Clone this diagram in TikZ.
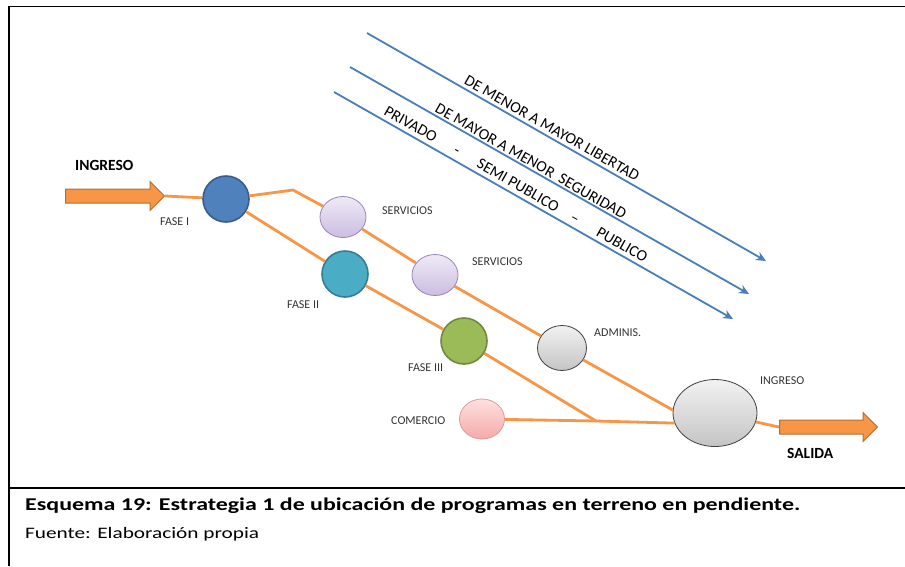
\documentclass[tikz,border=0pt]{standalone}
\usepackage{fontspec}
\usepackage{graphicx}
\setmainfont{Carlito}
\usetikzlibrary{shapes.arrows,shapes.geometric,arrows.meta}
\definecolor{org}{HTML}{F79646}
\definecolor{orgdark}{HTML}{B66D31}
\definecolor{blu}{HTML}{4A7EBB}
\definecolor{f1}{HTML}{4F81BD}\definecolor{f1d}{HTML}{385D8A}
\definecolor{f2}{HTML}{4BACC6}\definecolor{f2d}{HTML}{357D91}
\definecolor{f3}{HTML}{9BBB59}\definecolor{f3d}{HTML}{71893F}
\definecolor{lavt}{HTML}{EFEAF6}\definecolor{lavb}{HTML}{CBBDE0}\definecolor{lavd}{HTML}{9A84BC}
\definecolor{gryt}{HTML}{F2F2F2}\definecolor{gryb}{HTML}{C4C4C4}
\definecolor{pnkt}{HTML}{FFE0E0}\definecolor{pnkb}{HTML}{F4A9A9}\definecolor{pnkd}{HTML}{E09A9A}
\begin{document}
\begin{tikzpicture}[x=1pt,y=-1pt,
  conn/.style={draw=org,line width=2.8pt},
  bluearr/.style={draw=blu,line width=1.8pt,-{Stealth[length=10pt,width=9pt]}},
  phase/.style={circle,minimum size=46pt,inner sep=0pt,line width=1.6pt},
  oval/.style={ellipse,inner sep=0pt,line width=0.8pt},
  lbl/.style={font=\fontsize{12}{14}\selectfont,text=black!80,anchor=west,inner sep=0pt},
  blbl/.style={font=\fontsize{15.5}{18}\selectfont\bfseries,anchor=west,inner sep=0pt},
  rlbl/.style={font=\fontsize{15.7}{18}\selectfont,rotate=-29.7,inner sep=0pt},
  bigarrow/.style={single arrow,fill=org,draw=orgdark,line width=1pt,inner xsep=0pt,inner ysep=6.5pt,
     minimum width=28pt,single arrow head extend=7.5pt,single arrow tip angle=90}]
\useasboundingbox (0,0) rectangle (905,566);
% frame
\draw[line width=1.3pt] (8,6.5) -- (905,6.5);
\draw[line width=2.2pt] (9.3,5.5) -- (9.3,566);
\draw[line width=2pt] (8,488) -- (905,488);
% blue arrows
\coordinate (a1s) at (367,33); \coordinate (a1e) at (766,261);
\coordinate (a2s) at (350,67); \coordinate (a2e) at (749,294);
\coordinate (a3s) at (334,92); \coordinate (a3e) at (733,319);
\draw[bluearr] (a1s) -- (a1e);
\draw[bluearr] (a2s) -- (a2e);
\draw[bluearr] (a3s) -- (a3e);
\node[rlbl] (t1) at (552,128) {DE MENOR A MAYOR LIBERTAD};
\node[rlbl] (t2) at (531,161) {DE MAYOR A MENOR\ \ SEGURIDAD};
\node[rlbl] (t3) at (516,184) {PRIVADO\hspace{22pt}-\hspace{22pt}SEMI PUBLICO\hspace{16pt}–\hspace{22pt}PUBLICO};
% nodes
\node[bigarrow,minimum height=99pt] (inar) at (111.5,196) {};
\node[phase,fill=f1,draw=f1d] (fase1) at (226,199) {};
\node[phase,fill=f2,draw=f2d] (fase2) at (345,274) {};
\node[phase,fill=f3,draw=f3d] (fase3) at (464,341) {};
\node[oval,minimum width=46pt,minimum height=41pt,top color=lavt,bottom color=lavb,draw=lavd] (serv1) at (343,217) {};
\node[oval,minimum width=46pt,minimum height=41pt,top color=lavt,bottom color=lavb,draw=lavd] (serv2) at (435,275) {};
\node[oval,minimum width=49pt,minimum height=45pt,top color=gryt,bottom color=gryb,draw=black!75] (adm) at (562,348) {};
\node[oval,minimum width=84pt,minimum height=67pt,top color=gryt,bottom color=gryb,draw=black!75] (ing) at (715,413) {};
\node[oval,minimum width=45pt,minimum height=40pt,top color=pnkt,bottom color=pnkb,draw=pnkd] (com) at (482,419) {};
\node[bigarrow,minimum height=98pt] (outar) at (825,427) {};
\coordinate (b1) at (293,190);
\coordinate (j) at (596,421);
% connectors
\draw[conn] (inar.tip) -- (fase1);
\draw[conn] (fase1) -- (b1) -- (serv1) -- (serv2) -- (adm) -- (ing.176);
\draw[conn] (fase1) -- (fase2) -- (fase3) -- (j);
\draw[conn] (com) -- (j) -- (ing.194);
\draw[conn] (ing) -- (outar.tail);
% labels
\node[blbl] (lin) at (75,165) {INGRESO};
\node[lbl] (lf1) at (160,222) {FASE I};
\node[lbl] (ls1) at (382,211) {SERVICIOS};
\node[lbl] (ls2) at (472,262) {SERVICIOS};
\node[lbl] (lf2) at (287,305) {FASE II};
\node[lbl] (lad) at (594,333) {ADMINIS.};
\node[lbl] (lf3) at (408,368) {FASE III};
\node[lbl] (lco) at (391,421) {COMERCIO};
\node[lbl] (lig) at (760,381) {INGRESO};
\node[blbl] (lsa) at (787,453) {SALIDA};
% caption
\node[font=\fontsize{18}{22}\selectfont\bfseries,anchor=base west,inner sep=0pt] (cap) at (25,510) {\scalebox{1.33}[1]{Esquema 19: Estrategia 1 de ubicación de programas en terreno en pendiente.}};
\node[font=\fontsize{16}{19}\selectfont,anchor=base west,inner sep=0pt] (src) at (25,538) {\scalebox{1.33}[1]{Fuente: Elaboración propia}};
\end{tikzpicture}
\end{document}
